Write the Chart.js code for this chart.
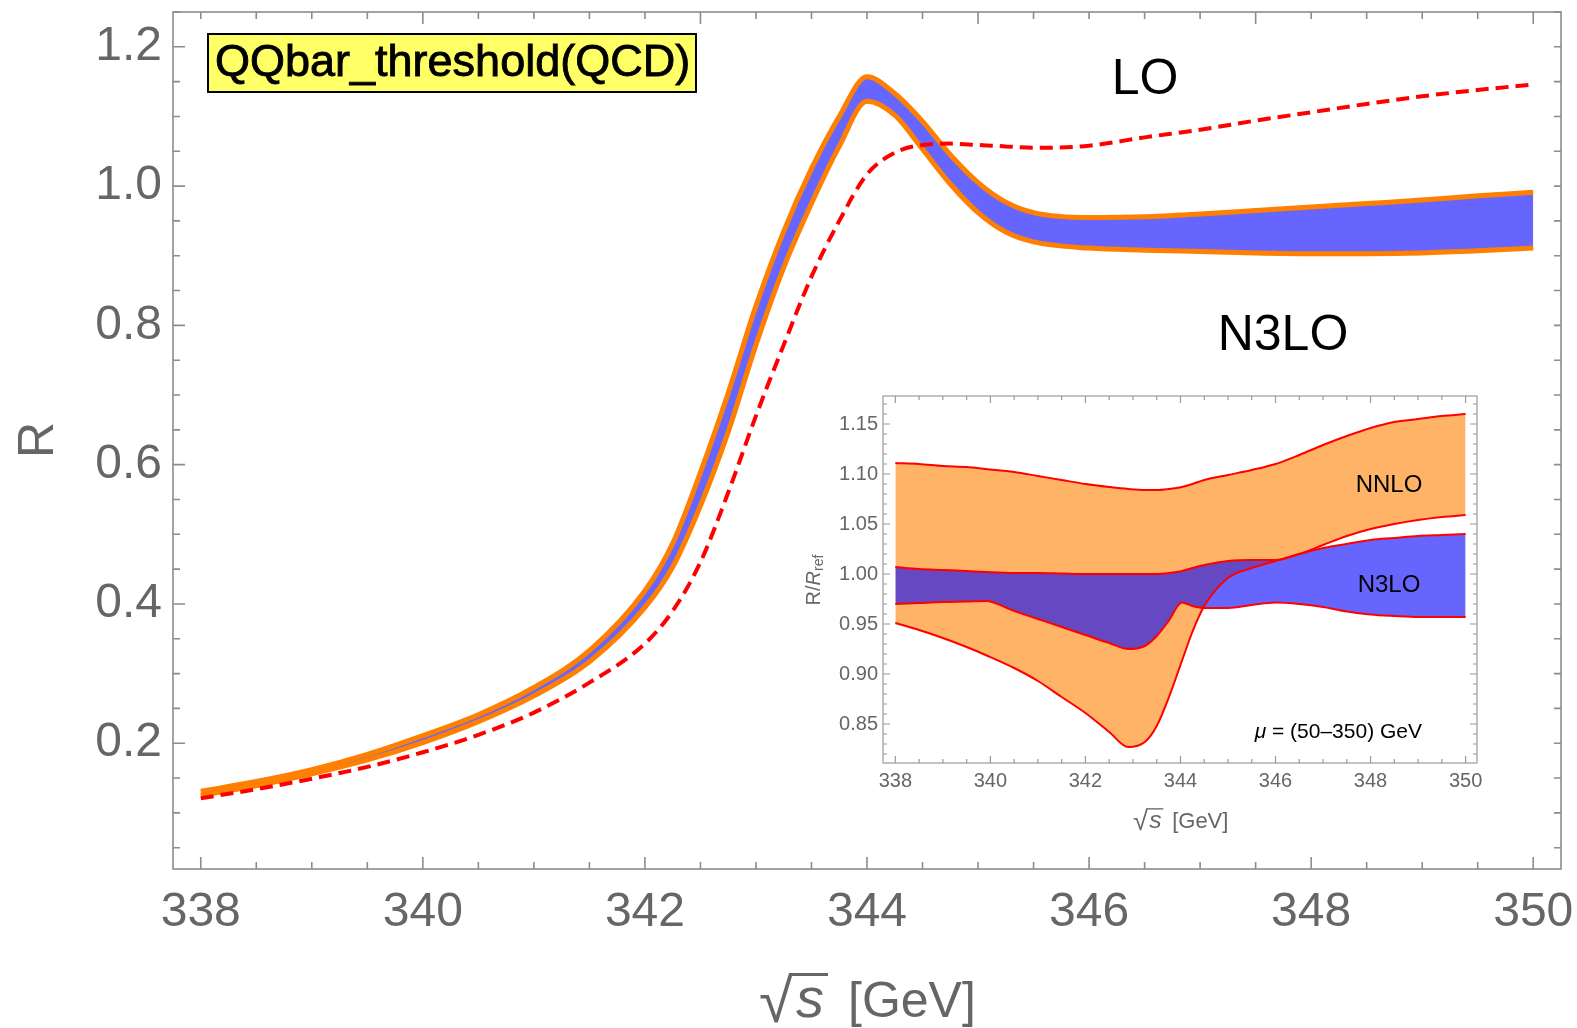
<!DOCTYPE html>
<html>
<head>
<meta charset="utf-8">
<script src="https://cdn.jsdelivr.net/npm/chart.js@4.4.1/dist/chart.umd.min.js"></script>
<style>
  html, body { margin: 0; padding: 0; background: #fff; }
  #wrap { position: relative; width: 1577px; height: 1028px; }
  #main { position: absolute; left: 0; top: 0; }
  #inset { position: absolute; left: 790px; top: 385px; }
</style>
</head>
<body>
<div id="wrap">
  <canvas id="main" width="1577" height="1028"></canvas>
  <canvas id="inset" width="700" height="455"></canvas>
</div>
<script>
// main panel: R vs sqrt(s)
const energy = [338, 338.5, 339, 339.5, 340, 340.5, 341, 341.5, 342, 342.25, 342.5, 342.75, 343, 343.25, 343.5, 343.75,
                344, 344.25, 344.5, 344.75, 345, 345.25, 345.5, 346, 346.5, 347, 347.5, 348, 348.5, 349, 349.5, 350];
const loR = [0.121, 0.134, 0.149, 0.166, 0.187, 0.212, 0.244, 0.287, 0.343, 0.390, 0.460, 0.560, 0.670, 0.772, 0.870, 0.950,
             1.017, 1.048, 1.059, 1.061, 1.059, 1.057, 1.055, 1.058, 1.070, 1.081, 1.094, 1.106, 1.118, 1.129, 1.138, 1.146];
const n3loUpper = [0.131, 0.145, 0.162, 0.184, 0.211, 0.241, 0.280, 0.333, 0.419, 0.487, 0.589, 0.703, 0.828, 0.935, 1.025, 1.100,
                   1.157, 1.133, 1.093, 1.045, 1.005, 0.977, 0.962, 0.955, 0.956, 0.960, 0.965, 0.970, 0.975, 0.980, 0.986, 0.991];
const n3loLower = [0.125, 0.139, 0.156, 0.176, 0.201, 0.231, 0.268, 0.317, 0.395, 0.453, 0.541, 0.647, 0.772, 0.883, 0.975, 1.057,
                   1.122, 1.102, 1.053, 1.003, 0.962, 0.934, 0.920, 0.911, 0.908, 0.906, 0.904, 0.903, 0.903, 0.904, 0.907, 0.911];
const xTicks = [338, 340, 342, 344, 346, 348, 350];
const yTicks = [0.2, 0.4, 0.6, 0.8, 1.0, 1.2];

// inset: R / R_ref for the two orders
const insetEnergy = [338, 338.5, 339, 339.5, 339.9, 340.5, 341, 341.5, 342, 342.5, 342.9, 343.25, 343.5, 343.75,
                     344.03, 344.25, 344.5, 345, 345.5, 346, 346.5, 347, 347.5, 348, 348.5, 349, 349.5, 350];
const nnloUpperRatio = [1.111, 1.110, 1.108, 1.107, 1.105, 1.102, 1.098, 1.094, 1.090, 1.087, 1.085, 1.084, 1.084, 1.085,
                        1.087, 1.090, 1.094, 1.099, 1.104, 1.110, 1.119, 1.129, 1.138, 1.146, 1.152, 1.155, 1.158, 1.160];
const nnloLowerRatio = [0.951, 0.944, 0.936, 0.927, 0.919, 0.906, 0.893, 0.877, 0.861, 0.842, 0.827, 0.832, 0.848, 0.876,
                        0.913, 0.942, 0.968, 0.996, 1.006, 1.013, 1.020, 1.029, 1.038, 1.045, 1.050, 1.054, 1.057, 1.059];
const n3loUpperRatio = [1.007, 1.005, 1.004, 1.003, 1.002, 1.001, 1.001, 1.0005, 1.000, 1.000, 1.000, 1.000, 1.000, 1.001,
                        1.003, 1.006, 1.009, 1.013, 1.014, 1.014, 1.020, 1.026, 1.030, 1.034, 1.036, 1.038, 1.039, 1.040];
const n3loLowerRatio = [0.970, 0.971, 0.972, 0.9725, 0.973, 0.963, 0.955, 0.947, 0.939, 0.931, 0.925, 0.928, 0.938, 0.953,
                        0.9715, 0.968, 0.966, 0.966, 0.969, 0.9715, 0.970, 0.967, 0.9625, 0.9595, 0.958, 0.957, 0.957, 0.957];
const insetXTicks = [338, 340, 342, 344, 346, 348, 350];
const insetYTicks = [0.85, 0.90, 0.95, 1.00, 1.05, 1.10, 1.15];

const FONT = '"Liberation Sans", Arial, sans-serif';
const GREY = '#666666';

function pts(xs, ys) { return xs.map((x, i) => ({ x: x, y: ys[i] })); }
function steps(a, b, d) {
    const out = [];
    for (let v = a; v <= b + 1e-9; v += d) out.push(Math.round(v * 1000) / 1000);
    return out;
}

// frame with inward ticks, Mathematica style
function drawFrame(chart, spec) {
    const { ctx, chartArea: a, scales } = chart;
    const sx = scales.x, sy = scales.y;
    ctx.save();
    ctx.strokeStyle = spec.color;
    ctx.lineWidth = spec.width;
    ctx.beginPath();
    spec.ticks.forEach(t => {
        t.values.forEach(v => {
            if (t.side === 'bottom' || t.side === 'top') {
                const px = sx.getPixelForValue(v);
                const y0 = t.side === 'bottom' ? a.bottom : a.top;
                ctx.moveTo(px, y0);
                ctx.lineTo(px, t.side === 'bottom' ? y0 - t.len : y0 + t.len);
            } else {
                const py = sy.getPixelForValue(v);
                const x0 = t.side === 'left' ? a.left : a.right;
                ctx.moveTo(x0, py);
                ctx.lineTo(t.side === 'left' ? x0 + t.len : x0 - t.len, py);
            }
        });
    });
    ctx.stroke();
    ctx.strokeRect(a.left, a.top, a.right - a.left, a.bottom - a.top);
    ctx.restore();
}

// "√s [GeV]" with the radical bar over s; k scales the 50px layout
function drawRootS(ctx, x0, base, k, color) {
    ctx.save();
    ctx.fillStyle = color;
    ctx.strokeStyle = color;
    ctx.textBaseline = 'alphabetic';
    ctx.textAlign = 'left';
    ctx.font = `${62 * k}px ${FONT}`;
    const rm = ctx.measureText('\u221a');
    const rootBase = base + 5 * k;
    ctx.fillText('\u221a', x0, rootBase);
    const top = rootBase - rm.actualBoundingBoxAscent;
    const rootRight = x0 + rm.width;
    ctx.font = `italic ${56 * k}px ${FONT}`;
    const sx = rootRight + 3 * k;
    ctx.fillText('s', sx, base);
    const sw = ctx.measureText('s').width;
    ctx.lineWidth = Math.max(1, 3 * k);
    ctx.beginPath();
    ctx.moveTo(rootRight - 3 * k, top + 1.5 * k);
    ctx.lineTo(sx + sw + 4 * k, top + 1.5 * k);
    ctx.stroke();
    ctx.font = `${50 * k}px ${FONT}`;
    ctx.fillText('[GeV]', sx + sw + 24 * k, base);
    ctx.restore();
}

const mainFrame = {
    color: '#8c8c8c', width: 1.6,
    ticks: [
        { side: 'bottom', values: xTicks, len: 12 },
        { side: 'bottom', values: steps(338, 350, 0.5), len: 7 },
        { side: 'top', values: [340, 342.5, 345, 347.5, 350], len: 12 },
        { side: 'top', values: steps(338, 350, 0.5), len: 7 },
        { side: 'left', values: yTicks, len: 12 },
        { side: 'left', values: steps(0.05, 1.25, 0.05), len: 7 },
        { side: 'right', values: steps(0.05, 1.25, 0.05), len: 7 }
    ]
};

const mainNotes = {
    id: 'mainNotes',
    afterDraw(chart) {
        const ctx = chart.ctx;
        drawFrame(chart, mainFrame);
        ctx.save();
        ctx.fillStyle = '#ffff66';
        ctx.fillRect(208, 34, 488, 58);
        ctx.lineWidth = 2;
        ctx.strokeStyle = '#000';
        ctx.strokeRect(208, 34, 488, 58);
        ctx.fillStyle = '#000';
        ctx.font = `45px ${FONT}`;
        ctx.textBaseline = 'middle';
        ctx.textAlign = 'left';
        ctx.fillText('QQbar_threshold(QCD)', 215, 64);
        ctx.lineWidth = 0.9;
        ctx.strokeText('QQbar_threshold(QCD)', 215, 64);
        ctx.font = `50px ${FONT}`;
        ctx.textAlign = 'center';
        ctx.fillText('LO', 1145, 80);
        ctx.fillText('N3LO', 1283, 336);
        ctx.fillStyle = GREY;
        ctx.save();
        ctx.translate(39, 440);
        ctx.rotate(-Math.PI / 2);
        ctx.fillText('R', 0, 0);
        ctx.restore();
        drawRootS(ctx, 759, 1017, 1, GREY);
        ctx.restore();
    }
};

// chart area is pinned by the frame positions, so drop the label overhang padding
function pinX(h) { return s => { s.height = h; s.paddingLeft = 0; s.paddingRight = 0; }; }
function pinY(w) { return s => { s.width = w; s.paddingTop = 0; s.paddingBottom = 0; }; }

new Chart(document.getElementById('main'), {
    type: 'line',
    data: {
        datasets: [
            { label: 'LO', data: pts(energy, loR), borderColor: '#ff0000', borderWidth: 4, borderDash: [13, 7], fill: false },
            { label: 'N3LO upper', data: pts(energy, n3loUpper), borderColor: '#ff8000', borderWidth: 5,
              fill: '+1', backgroundColor: 'rgba(0,0,255,0.6)' },
            { label: 'N3LO lower', data: pts(energy, n3loLower), borderColor: '#ff8000', borderWidth: 5, fill: false }
        ]
    },
    options: {
        responsive: false,
        animation: false,
        devicePixelRatio: 1,
        layout: { padding: { top: 12, right: 16, left: 0, bottom: 0 } },
        elements: { point: { radius: 0 }, line: { cubicInterpolationMode: 'monotone', borderJoinStyle: 'round' } },
        plugins: { legend: { display: false }, tooltip: { enabled: false }, filler: { drawTime: 'beforeDatasetsDraw' } },
        scales: {
            x: {
                type: 'linear', min: 337.75, max: 350.25,
                grid: { display: false, drawTicks: false }, border: { display: false },
                afterBuildTicks: s => { s.ticks = xTicks.map(v => ({ value: v })); },
                afterFit: pinX(159),
                ticks: { padding: 15, color: GREY, font: { family: FONT, size: 48 }, maxRotation: 0, autoSkip: false }
            },
            y: {
                type: 'linear', min: 0.0194, max: 1.25,
                grid: { display: false, drawTicks: false }, border: { display: false },
                afterBuildTicks: s => { s.ticks = yTicks.map(v => ({ value: v })); },
                afterFit: pinY(173),
                ticks: { padding: 11, color: GREY, font: { family: FONT, size: 48 }, callback: v => v.toFixed(1) }
            }
        }
    },
    plugins: [mainNotes]
});

const insetFrame = {
    color: '#9a9a9a', width: 1.2,
    ticks: [
        { side: 'bottom', values: insetXTicks, len: 7 },
        { side: 'bottom', values: steps(338, 350, 0.5), len: 4 },
        { side: 'top', values: insetXTicks, len: 7 },
        { side: 'top', values: steps(338, 350, 0.5), len: 4 },
        { side: 'left', values: insetYTicks, len: 7 },
        { side: 'left', values: steps(0.82, 1.17, 0.01), len: 4 },
        { side: 'right', values: insetYTicks, len: 7 },
        { side: 'right', values: steps(0.82, 1.17, 0.01), len: 4 }
    ]
};

const insetNotes = {
    id: 'insetNotes',
    beforeDraw(chart) {
        const ctx = chart.ctx;
        ctx.save();
        ctx.fillStyle = '#fff';
        ctx.fillRect(0, 0, chart.width, chart.height);
        ctx.restore();
    },
    afterDraw(chart) {
        const ctx = chart.ctx;
        drawFrame(chart, insetFrame);
        ctx.save();
        ctx.fillStyle = '#000';
        ctx.textBaseline = 'middle';
        ctx.textAlign = 'center';
        ctx.font = `24px ${FONT}`;
        ctx.fillText('NNLO', 599, 100);
        ctx.fillText('N3LO', 599, 200);
        // mu label, right aligned
        ctx.font = `21px ${FONT}`;
        const rest = ' = (50\u2013350) GeV';
        const rw = ctx.measureText(rest).width;
        ctx.textAlign = 'left';
        ctx.fillText(rest, 632 - rw, 347);
        ctx.font = `italic 21px ${FONT}`;
        const mw = ctx.measureText('\u03bc').width;
        ctx.fillText('\u03bc', 632 - rw - mw, 347);
        // axis titles
        ctx.fillStyle = GREY;
        ctx.save();
        ctx.translate(24, 195);
        ctx.rotate(-Math.PI / 2);
        ctx.font = `20px ${FONT}`;
        const w1 = ctx.measureText('R/').width;
        ctx.font = `italic 20px ${FONT}`;
        const w2 = ctx.measureText('R').width;
        ctx.font = `14px ${FONT}`;
        const w3 = ctx.measureText('ref').width;
        const x0 = -(w1 + w2 + w3) / 2;
        ctx.font = `20px ${FONT}`;
        ctx.fillText('R/', x0, 0);
        ctx.font = `italic 20px ${FONT}`;
        ctx.fillText('R', x0 + w1, 0);
        ctx.font = `14px ${FONT}`;
        ctx.fillText('ref', x0 + w1 + w2, 5);
        ctx.restore();
        drawRootS(ctx, 343, 443, 0.44, GREY);
        ctx.restore();
    }
};

new Chart(document.getElementById('inset'), {
    type: 'line',
    data: {
        datasets: [
            { label: 'N3LO upper', data: pts(insetEnergy, n3loUpperRatio), borderColor: '#ff0000', borderWidth: 2,
              fill: '+1', backgroundColor: 'rgba(0,0,255,0.6)' },
            { label: 'N3LO lower', data: pts(insetEnergy, n3loLowerRatio), borderColor: '#ff0000', borderWidth: 2, fill: false },
            { label: 'NNLO upper', data: pts(insetEnergy, nnloUpperRatio), borderColor: '#ff0000', borderWidth: 2,
              fill: '+1', backgroundColor: 'rgba(255,128,0,0.6)' },
            { label: 'NNLO lower', data: pts(insetEnergy, nnloLowerRatio), borderColor: '#ff0000', borderWidth: 2, fill: false }
        ]
    },
    options: {
        responsive: false,
        animation: false,
        devicePixelRatio: 1,
        layout: { padding: { top: 11, right: 13, left: 0, bottom: 0 } },
        elements: { point: { radius: 0 }, line: { cubicInterpolationMode: 'monotone', borderJoinStyle: 'round' } },
        plugins: { legend: { display: false }, tooltip: { enabled: false }, filler: { drawTime: 'beforeDatasetsDraw' } },
        scales: {
            x: {
                type: 'linear', min: 337.74, max: 350.24,
                grid: { display: false, drawTicks: false }, border: { display: false },
                afterBuildTicks: s => { s.ticks = insetXTicks.map(v => ({ value: v })); },
                afterFit: pinX(77),
                ticks: { padding: 6, color: GREY, font: { family: FONT, size: 20 }, maxRotation: 0, autoSkip: false }
            },
            y: {
                type: 'linear', min: 0.811, max: 1.178,
                grid: { display: false, drawTicks: false }, border: { display: false },
                afterBuildTicks: s => { s.ticks = insetYTicks.map(v => ({ value: v })); },
                afterFit: pinY(93),
                ticks: { padding: 5, color: GREY, font: { family: FONT, size: 20 }, callback: v => v.toFixed(2) }
            }
        }
    },
    plugins: [insetNotes]
});
</script>
</body>
</html>
